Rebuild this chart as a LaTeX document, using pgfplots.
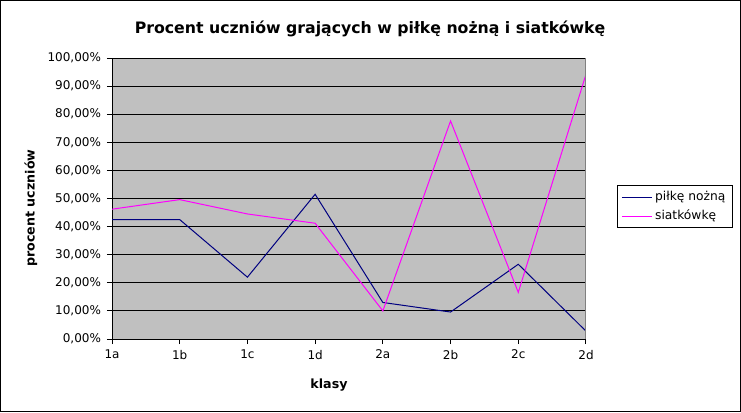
\documentclass[border=0pt]{standalone}
\usepackage{fontspec}
\setmainfont{DejaVu Sans}
\usepackage{pgfplots}
\pgfplotsset{compat=1.18}
\definecolor{bgray}{RGB}{192,192,192}
\definecolor{navyc}{RGB}{0,0,128}
\definecolor{magc}{RGB}{255,0,255}
\definecolor{edgegray}{RGB}{128,128,128}
\begin{document}
\begin{tikzpicture}[x=1pt,y=1pt]
\useasboundingbox (0,0) rectangle (555.75,309);
\draw[line width=0.75pt] (0.375,0.375) rectangle (555.375,308.625);
\begin{axis}[
  at={(84pt,54.75pt)}, anchor=south west,
  scale only axis, width=355.5pt, height=210.75pt,
  xmin=0, xmax=7, ymin=0, ymax=100,
  xtick={0,...,7},
  xticklabels={1a,1b,1c,1d,2a,2b,2c,2d},
  ytick={0,10,...,100},
  yticklabel={\pgfmathprintnumber[fixed,fixed zerofill,precision=2,use comma,assume math mode=true]{\tick}\%},
  axis x line*=bottom, axis y line*=left,
  axis line style={black, line width=0.75pt},
  tick align=outside, major tick length=3.75pt,
  tick style={black, line width=0.75pt},
  ymajorgrids, major grid style={black, line width=0.75pt},
  axis background/.style={fill=bgray},
  tick label style={font=\fontsize{9}{11}\selectfont},
  xticklabel style={yshift=-1pt},
  yticklabel style={xshift=-1pt},
  legend style={at={(axis description cs:1.0654,0.548)}, anchor=north west,
    draw=black, line width=0.75pt, fill=white, font=\fontsize{9.2}{11}\selectfont,
    inner xsep=3pt, inner ysep=2.5pt, row sep=1.5pt},
  legend cell align=left,
  legend image code/.code={\draw[#1, line width=0.75pt] (0pt,0pt) -- (22.5pt,0pt);},
]
\addplot[navyc, line width=0.75pt] coordinates {
(0,42.5) (1,42.5) (2,22.0) (3,51.5) (4,13.0) (5,9.6) (6,26.6) (7,2.8)};
\addlegendentry{piłkę nożną}
\addplot[magc, line width=0.75pt] coordinates {
(0,46.2) (1,49.6) (2,44.5) (3,41.2) (4,10.0) (5,77.6) (6,16.6) (7,94.2)};
\addlegendentry{siatkówkę}
\draw[edgegray, line width=0.75pt] (rel axis cs:1,0) -- (rel axis cs:1,1);
\end{axis}
\node[anchor=base, font=\bfseries\fontsize{11.8}{14}\selectfont] at (277.5,284.25) {Procent uczniów grających w piłkę nożną i siatkówkę};
\node[anchor=base, font=\bfseries\fontsize{9.5}{11}\selectfont] at (246.75,18) {klasy};
\node[rotate=90, font=\bfseries\fontsize{9.5}{11}\selectfont] at (23.25,153) {procent uczniów};
\end{tikzpicture}
\end{document}
